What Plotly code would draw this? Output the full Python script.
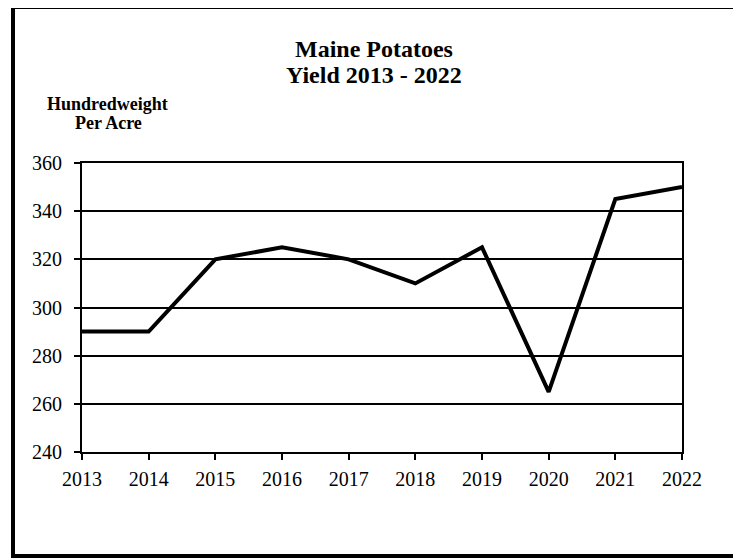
import plotly.graph_objects as go

years = [2013, 2014, 2015, 2016, 2017, 2018, 2019, 2020, 2021, 2022]
yield_cwt = [290, 290, 320, 325, 320, 310, 325, 265, 345, 350]
y_ticks = [240, 260, 280, 300, 320, 340, 360]

W, H = 741, 558
OFF = 8  # page body margin
L, T = 82 - OFF, 163 - OFF
pw, ph = 600, 289
R, B = W - L - pw, H - T - ph

def px_x(x):
    return (x - OFF - L) / pw

def px_y(y):
    return (T + ph - (y - OFF)) / ph

FONT = "Times New Roman, Liberation Serif, serif"

fig = go.Figure()
fig.add_trace(go.Scatter(x=years, y=yield_cwt, mode="lines",
                         line=dict(color="black", width=4), showlegend=False,
                         cliponaxis=False))

def label(text, x, y, size):
    return dict(text=text, xref="paper", yref="paper", x=px_x(x), y=px_y(y),
                xanchor="center", yanchor="middle", showarrow=False,
                font=dict(family=FONT, size=size, color="black"))

fig.update_layout(
    width=W, height=H,
    margin=dict(l=L, r=R, t=T, b=B),
    paper_bgcolor="white", plot_bgcolor="white",
    font=dict(family=FONT, color="black", size=20),
    xaxis=dict(range=[2013, 2022], tickmode="array", tickvals=years,
               ticktext=[str(y) for y in years],
               showgrid=False, zeroline=False, showline=True, linecolor="black",
               linewidth=2, mirror=True, ticks="outside", ticklen=6, tickwidth=2,
               tickcolor="black", ticklabelstandoff=2,
               tickfont=dict(family=FONT, size=20)),
    yaxis=dict(range=[240, 360], tickmode="array", tickvals=y_ticks,
               showgrid=True, gridcolor="black", gridwidth=2, zeroline=False,
               showline=True, linecolor="black", linewidth=2, mirror=True,
               ticks="outside", ticklen=6, tickwidth=2, tickcolor="black",
               ticklabelstandoff=8,
               tickfont=dict(family=FONT, size=20)),
    annotations=[
        label("<b>Maine Potatoes</b>", 374, 49, 24),
        label("<b>Yield 2013 - 2022</b>", 374, 75, 24),
        label("<b>Hundredweight</b>", 107, 104, 18),
        label("<b>Per Acre</b>", 108, 123, 18),
    ],
    shapes=[dict(type="rect", xref="paper", yref="paper",
                 x0=px_x(13), x1=px_x(735), y0=px_y(556), y1=px_y(7),
                 line=dict(color="black", width=4), fillcolor="rgba(0,0,0,0)", layer="below")],
)

fig.write_html("out.html")
